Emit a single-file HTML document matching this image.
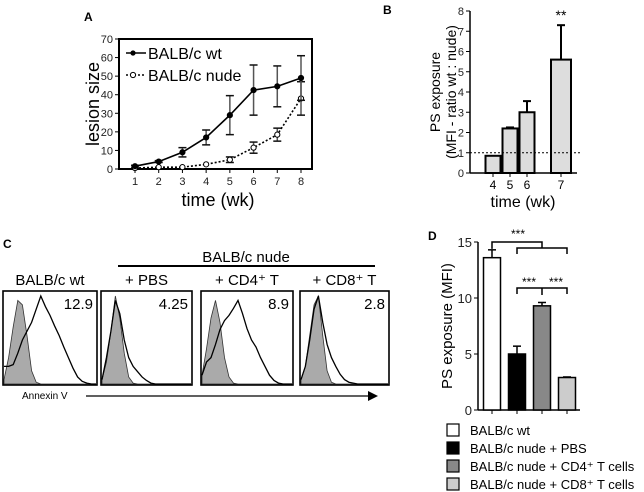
<!DOCTYPE html>
<html><head><meta charset="utf-8">
<style>
html,body{margin:0;padding:0;background:#fff;}
svg{display:block;font-family:"Liberation Sans",Arial,sans-serif;}
</style></head>
<body>
<svg id="fig" width="644" height="492" viewBox="0 0 644 492" xmlns="http://www.w3.org/2000/svg">
<g id="pa"></g>
<g id="pb"></g>
<g id="pc"></g>
<g id="pd"></g>
</svg>
<script>
// Panel A data
const aWeeks=[1,2,3,4,5,6,7,8];
const aWt=[1.5,4,9,17,29,42.5,44.5,49];
const aWtErr=[0.5,0.5,2.5,4,10.5,13.5,11,12];
const aNude=[0.5,1,1,2.5,5,11.5,18.5,38];
const aNudeErr=[0,0,0,0,1.5,3,3.5,9];
const aYTicks=[0,10,20,30,40,50,60,70];
// Panel B data
const bWeeks=[4,5,6,7];
const bVals=[0.85,2.2,3.0,5.6];
const bErr=[0,0.05,0.55,1.7];
const bYTicks=[0,1,2,3,4,5,6,7,8];
// Panel C data
const cTitles=["BALB/c wt","+ PBS","+ CD4⁺ T","+ CD8⁺ T"];
const cValues=["12.9","4.25","8.9","2.8"];
const cGray=[
 [0.05,0.3,0.65,0.95,0.9,0.55,0.15,0.02,0,0,0,0,0,0,0,0,0,0,0,0,0],
 [0.05,0.25,0.6,1.0,0.75,0.35,0.08,0.01,0,0,0,0,0,0,0,0,0,0,0,0,0],
 [0.1,0.4,0.75,0.95,0.7,0.3,0.08,0.01,0,0,0,0,0,0,0,0,0,0,0,0,0],
 [0.05,0.2,0.55,0.9,1.0,0.55,0.15,0.02,0,0,0,0,0,0,0,0,0,0,0,0,0]];
const cOpen=[
 [0.2,0.2,0.22,0.35,0.5,0.6,0.7,0.85,1.0,0.88,0.78,0.66,0.55,0.42,0.3,0.18,0.08,0.03,0.01,0,0],
 [0.05,0.3,0.6,0.95,0.8,0.5,0.3,0.2,0.14,0.08,0.04,0.01,0,0,0,0,0,0,0,0,0],
 [0.1,0.25,0.3,0.45,0.62,0.72,0.78,0.86,0.95,0.8,0.63,0.5,0.42,0.3,0.2,0.1,0.04,0.01,0,0,0],
 [0.05,0.2,0.5,0.85,1.0,0.7,0.45,0.3,0.2,0.11,0.05,0.02,0.01,0,0,0,0,0,0,0,0]];
// Panel D data
const dGroups=["BALB/c wt","BALB/c nude + PBS","BALB/c nude + CD4⁺ T cells","BALB/c nude + CD8⁺ T cells"];
const dVals=[13.6,5.0,9.3,2.9];
const dErr=[0.7,0.7,0.3,0.05];
const dColors=["#ffffff","#000000","#888888","#cccccc"];
const dYTicks=[0,5,10,15];

const NS="http://www.w3.org/2000/svg";
function mk(parent,tag,attrs,text){const e=document.createElementNS(NS,tag);for(const k in attrs)e.setAttribute(k,attrs[k]);if(text!==undefined)e.textContent=text;parent.appendChild(e);return e;}

// ---------- Panel A ----------
(function(){
const g=document.getElementById('pa');
const x=w=>135+(w-1)*(301-135)/7;
const y=v=>169-v*(130/70);
let t=mk(g,'text',{x:84,y:21,'font-size':12,'font-weight':'bold'},'A');

let r=mk(g,'rect',{x:119,y:39,width:193,height:130,fill:'none',stroke:'#000','stroke-width':2});

aYTicks.forEach(v=>{mk(g,'line',{x1:115,x2:119,y1:y(v),y2:y(v),stroke:'#000'});
 const l=mk(g,'text',{x:113,y:y(v)+4,'font-size':11,'text-anchor':'end',fill:'#222'},v);
 });
aWeeks.forEach(w=>{mk(g,'line',{x1:x(w),x2:x(w),y1:169,y2:173,stroke:'#000'});
 const l=mk(g,'text',{x:x(w),y:185,'font-size':11,'text-anchor':'middle',fill:'#222'},w);
 });
t=mk(g,'text',{x:218,y:206,'font-size':18,'text-anchor':'middle'},'time (wk)');

t=mk(g,'text',{x:0,y:0,'font-size':18,'text-anchor':'middle',transform:'translate(99,104) rotate(-90)'},'lesion size');

function series(vals,errs,dash,fill,name){
 const s=mk(g,'g',{});
 vals.forEach((v,i)=>{if(errs[i]>0){const X=x(aWeeks[i]);
  mk(s,'line',{x1:X,x2:X,y1:y(v+errs[i]),y2:y(v-errs[i]),stroke:'#555','stroke-width':1.5});
  mk(s,'line',{x1:X-4,x2:X+4,y1:y(v+errs[i]),y2:y(v+errs[i]),stroke:'#111','stroke-width':1.5});
  mk(s,'line',{x1:X-4,x2:X+4,y1:y(v-errs[i]),y2:y(v-errs[i]),stroke:'#111','stroke-width':1.5});}});
 mk(s,'polyline',{points:vals.map((v,i)=>x(aWeeks[i])+','+y(v)).join(' '),fill:'none',stroke:'#000','stroke-width':1.6,'stroke-dasharray':dash});
 vals.forEach((v,i)=>{const c=mk(s,'circle',{cx:x(aWeeks[i]),cy:y(v),r:2.6,fill:fill,stroke:'#000','stroke-width':1});
  });
}
series(aNude,aNudeErr,'2,2','#fff','series-nude');
series(aWt,aWtErr,'none','#000','series-wt');
let le=mk(g,'g',{});
mk(le,'line',{x1:126,x2:146,y1:53,y2:53,stroke:'#000','stroke-width':1.6});
mk(le,'circle',{cx:133,cy:53,r:2.6,fill:'#000'});
mk(le,'text',{x:148,y:59,'font-size':16},'BALB/c wt');
le=mk(g,'g',{});
mk(le,'line',{x1:126,x2:146,y1:75,y2:75,stroke:'#000','stroke-width':1.6,'stroke-dasharray':'2,2'});
mk(le,'circle',{cx:133,cy:75,r:2.6,fill:'#fff',stroke:'#000'});
mk(le,'text',{x:148,y:81,'font-size':16},'BALB/c nude');
})();

// ---------- Panel B ----------
(function(){
const g=document.getElementById('pb');
const x=w=>493+(w-4)*17+(w>=7?17:0);
const y=v=>173-v*20.25;
let t=mk(g,'text',{x:383,y:14,'font-size':12,'font-weight':'bold'},'B');

mk(g,'line',{x1:470,x2:470,y1:11,y2:173,stroke:'#000','stroke-width':1.5});
mk(g,'line',{x1:470,x2:577,y1:173,y2:173,stroke:'#000','stroke-width':1.5});
bYTicks.forEach(v=>{mk(g,'line',{x1:466,x2:470,y1:y(v),y2:y(v),stroke:'#000'});
 const l=mk(g,'text',{x:464,y:y(v)+4,'font-size':11,'text-anchor':'end',fill:'#222'},v);
 });
bWeeks.forEach((w,i)=>{const X=x(w);
 if(bErr[i]>0){mk(g,'line',{x1:X,x2:X,y1:y(bVals[i]),y2:y(bVals[i]+bErr[i]),stroke:'#000','stroke-width':2});
  mk(g,'line',{x1:X-4,x2:X+4,y1:y(bVals[i]+bErr[i]),y2:y(bVals[i]+bErr[i]),stroke:'#000','stroke-width':2});}
 const bw=(w>=7?20:15);
 const b=mk(g,'rect',{x:X-bw/2,y:y(bVals[i]),width:bw,height:173-y(bVals[i]),fill:'#ddd',stroke:'#000','stroke-width':2});
 
 mk(g,'line',{x1:X,x2:X,y1:173,y2:177,stroke:'#000'});
 const l=mk(g,'text',{x:X,y:189,'font-size':12,'text-anchor':'middle'},w);
 });
let d=mk(g,'line',{x1:470,x2:580,y1:y(1),y2:y(1),stroke:'#000','stroke-width':1,'stroke-dasharray':'2,2'});

t=mk(g,'text',{x:x(7),y:y(bVals[3]+bErr[3])-5,'font-size':14,'text-anchor':'middle'},'**');

t=mk(g,'text',{x:523,y:207,'font-size':16,'text-anchor':'middle'},'time (wk)');

t=mk(g,'text',{x:0,y:0,'font-size':14,'text-anchor':'middle',transform:'translate(440,92) rotate(-90)'},'PS exposure');

t=mk(g,'text',{x:0,y:0,'font-size':14,'text-anchor':'middle',transform:'translate(456,92) rotate(-90)'},'(MFI - ratio wt : nude)');

})();

// ---------- Panel C ----------
(function(){
const g=document.getElementById('pc');
let t=mk(g,'text',{x:3,y:248,'font-size':12,'font-weight':'bold'},'C');

t=mk(g,'text',{x:246,y:262,'font-size':15,'text-anchor':'middle'},'BALB/c nude');

mk(g,'line',{x1:118,x2:375,y1:266,y2:266,stroke:'#000','stroke-width':2});
const bx=[3,101,201,300],bw=[94,91,92,89],top=291,H=94;
cTitles.forEach((ti,k)=>{
 const p=mk(g,'g',{});
 mk(p,'text',{x:bx[k]+bw[k]/2,y:285,'font-size':15,'text-anchor':'middle'},ti);
 const X=i=>bx[k]+1+i*(bw[k]-2)/20, Y=v=>top+H-1-v*(H-6);
 mk(p,'path',{d:'M'+X(0)+','+Y(0)+' '+cGray[k].map((v,i)=>'L'+X(i)+','+Y(v)).join(' ')+' L'+X(20)+','+Y(0)+'Z',fill:'#aaa',stroke:'#333','stroke-width':0.8});
 mk(p,'polyline',{points:cOpen[k].map((v,i)=>X(i)+','+Y(v)).join(' '),fill:'none',stroke:'#000','stroke-width':1.3});
 mk(p,'rect',{x:bx[k],y:top,width:bw[k],height:H,fill:'none',stroke:'#000','stroke-width':1.6});
 mk(p,'text',{x:bx[k]+bw[k]-4,y:309,'font-size':15,'text-anchor':'end'},cValues[k]);
});
t=mk(g,'text',{x:22,y:399,'font-size':10},'Annexin V');

let a=mk(g,'g',{});
mk(a,'line',{x1:86,x2:370,y1:396,y2:396,stroke:'#000','stroke-width':1.3});
mk(a,'polygon',{points:'368,391 378,396 368,401',fill:'#000'});
})();

// ---------- Panel D ----------
(function(){
const g=document.getElementById('pd');
const x=i=>492+i*25;
const y=v=>410-v*11.2;
let t=mk(g,'text',{x:428,y:240,'font-size':12,'font-weight':'bold'},'D');

mk(g,'line',{x1:478,x2:478,y1:y(15),y2:410,stroke:'#000','stroke-width':1.5});
mk(g,'line',{x1:478,x2:580,y1:410,y2:410,stroke:'#000','stroke-width':1.5});
dYTicks.forEach(v=>{mk(g,'line',{x1:474,x2:478,y1:y(v),y2:y(v),stroke:'#000'});
 const l=mk(g,'text',{x:472,y:y(v)+5,'font-size':13,'text-anchor':'end',fill:'#222'},v);
 });
dVals.forEach((v,i)=>{const X=x(i);
 mk(g,'line',{x1:X,x2:X,y1:y(v),y2:y(v+dErr[i]),stroke:'#000','stroke-width':1.5});
 mk(g,'line',{x1:X-4,x2:X+4,y1:y(v+dErr[i]),y2:y(v+dErr[i]),stroke:'#000','stroke-width':1.5});
 const b=mk(g,'rect',{x:X-8.5,y:y(v),width:17,height:410-y(v),fill:dColors[i],stroke:'#000','stroke-width':1.5});
 
 mk(g,'line',{x1:X,x2:X,y1:410,y2:414,stroke:'#000'});});
t=mk(g,'text',{x:0,y:0,'font-size':15,'text-anchor':'middle',transform:'translate(452,326) rotate(-90)'},'PS exposure (MFI)');

const br=mk(g,'g',{fill:'none',stroke:'#000','stroke-width':1.5});
mk(br,'polyline',{points:`${x(0)},${y(dVals[0]+dErr[0])-1} ${x(0)},242 ${x(2)},242 ${x(2)},248`});
mk(br,'polyline',{points:`${x(1)},254 ${x(1)},248 ${x(3)},248 ${x(3)},254`});
mk(br,'polyline',{points:`${x(1)},294 ${x(1)},288 ${x(3)},288 ${x(3)},294`});
mk(br,'line',{x1:x(2),x2:x(2),y1:288,y2:295});
[[518,238],[529,286],[556,286]].forEach(p=>{const s=mk(g,'text',{x:p[0],y:p[1],'font-size':12,'text-anchor':'middle'},'***');
 });
dGroups.forEach((n,i)=>{const e=mk(g,'g',{});
 const yy=424+i*18;
 mk(e,'rect',{x:447,y:yy,width:12,height:12,fill:dColors[i],stroke:'#000','stroke-width':1.2});
 mk(e,'text',{x:470,y:yy+11,'font-size':13},n);});
})();
</script>
</body></html>
